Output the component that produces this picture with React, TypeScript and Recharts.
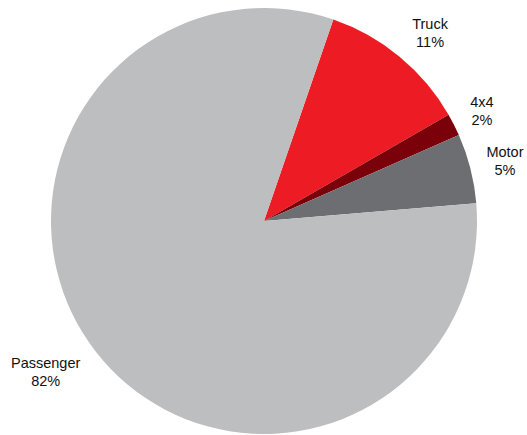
import React from "react";
import { PieChart, Pie, Cell } from "recharts";

// clockwise from the top, in chart order
const categories = ["Truck", "4x4", "Motor", "Passenger"];
const shares = [11.4, 1.7, 5.3, 81.6];
const labels = ["11%", "2%", "5%", "82%"];
const COLORS = ["#ED1C24", "#7A0009", "#6D6E71", "#BDBEC0"];

const data = categories.map((name, i) => ({ name, value: shares[i], pct: labels[i] }));

const RAD = Math.PI / 180;

const renderLabel = (props: any) => {
  const { cx, cy, midAngle, outerRadius, index } = props;
  const name = categories[index];
  const pct = labels[index];
  const cos = Math.cos(-midAngle * RAD);
  const sin = Math.sin(-midAngle * RAD);
  const r = outerRadius + 18;
  const w = Math.max(name.length, pct.length) * 8;
  const h = 28;
  const kx = Math.sign(cos) * Math.min(1, Math.abs(cos) * 1.5);
  let x = cx + r * cos + (w / 2) * kx;
  x = Math.min(x, 527 - w / 2 - 2);
  const y = cy + r * sin + (h / 2) * sin;
  return (
    <text
      x={x}
      y={y}
      textAnchor="middle"
      fontFamily="'Liberation Sans', Arial, sans-serif"
      fontSize={14.5}
      fill="#111"
    >
      <tspan x={x} dy={-3}>{name}</tspan>
      <tspan x={x} dy={17.6}>{pct}</tspan>
    </text>
  );
};

const App: React.FC = () => (
  <div style={{ position: "absolute", left: 0, top: 0, width: 527, height: 435, background: "#fff" }}>
    <PieChart width={527} height={435} margin={{ top: 0, right: 0, bottom: 0, left: 0 }}>
      <Pie
        data={data}
        dataKey="value"
        cx={264}
        cy={221}
        outerRadius={213}
        startAngle={71}
        endAngle={71 - 360}
        stroke="none"
        label={renderLabel}
        labelLine={false}
        isAnimationActive={false}
      >
        {data.map((entry, i) => (
          <Cell key={`cell-${i}`} fill={COLORS[i % COLORS.length]} />
        ))}
      </Pie>
    </PieChart>
  </div>
);

export default App;
